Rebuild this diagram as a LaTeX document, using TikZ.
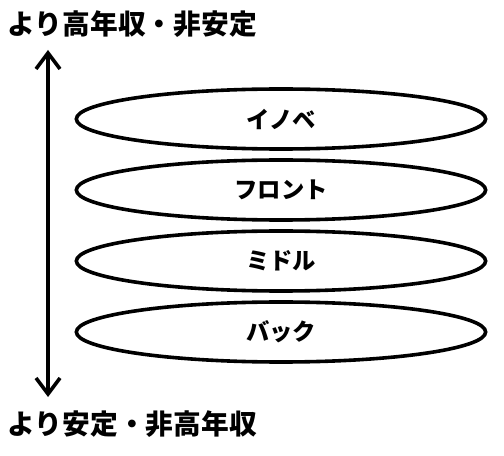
\documentclass[tikz,border=0pt]{standalone}
\usepackage{fontspec}
\setmainfont{Noto Sans CJK JP}
\usetikzlibrary{shapes.geometric,arrows.meta}

\tikzset{every picture/.style={line width=2.7pt}}
\tikzset{
  layer/.style={draw, ellipse, inner sep=0pt, minimum width=307pt, minimum height=45pt,
    font=\bfseries\fontsize{17.5pt}{19pt}\selectfont},
  endlabel/.style={anchor=west, inner sep=0pt, font=\bfseries\fontsize{20.8pt}{24pt}\selectfont}
}

\begin{document}
\begin{tikzpicture}[x=0.75pt,y=0.75pt,yscale=-1,xscale=1]
    \useasboundingbox (0,0) rectangle (504,456);

    % Text Node
    \node (high) at (6,24) [endlabel] {より高年収・非安定};
    % Text Node
    \node (low) at (6,424) [endlabel] {より安定・非高年収};

    %Straight Lines
    \coordinate (top) at (48,50);
    \coordinate (bot) at (48,397);
    \draw [{Straight Barb[length=12pt,width=18pt]}-{Straight Barb[length=12pt,width=18pt]}] (top) -- (bot) ;

    %Shape: Ellipse
    \node (inov) at (281,119) [layer] {イノベ};
    \node (front) at (281,190) [layer] {フロント};
    \node (middle) at (281,261) [layer] {ミドル};
    \node (back) at (281,332) [layer] {バック};

\end{tikzpicture}
\end{document}
